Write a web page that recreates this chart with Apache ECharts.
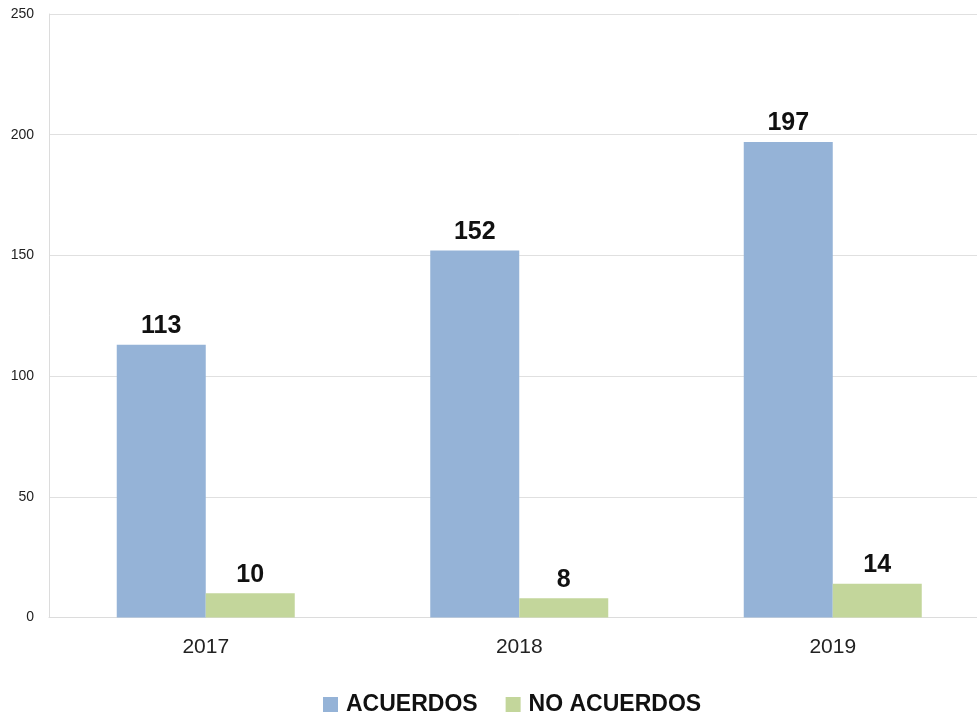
<!DOCTYPE html>
<html><head><meta charset="utf-8">
<script src="https://cdn.jsdelivr.net/npm/echarts@6/dist/echarts.min.js"></script>
<style>html,body{margin:0;padding:0;background:#fff;overflow:hidden}#c{width:992px;height:716px}</style>
</head><body><div id="c"></div>
<script>
const categories = ['2017', '2018', '2019'];
const acuerdos = [113, 152, 197];
const noAcuerdos = [10, 8, 14];
const seriesNames = ['ACUERDOS', 'NO ACUERDOS'];

const FONT = 'Liberation Sans, Arial, sans-serif';
const chart = echarts.init(document.getElementById('c'));
const labelStyle = {show: true, position: 'top', distance: 6, color: '#111', fontSize: 25, fontWeight: 'bold', fontFamily: FONT};
chart.setOption({
  animation: false,
  backgroundColor: '#fff',
  grid: {left: 49, top: 14, width: 940.5, height: 603.5, containLabel: false},
  legend: {
    top: 693, left: 323, padding: 0,
    itemWidth: 15, itemHeight: 15, itemGap: 28,
    icon: 'rect',
    textStyle: {fontSize: 23, fontWeight: 'bold', color: '#111', fontFamily: FONT, padding: [0, 0, 0, 3]},
    data: seriesNames
  },
  xAxis: {
    type: 'category', data: categories,
    axisLine: {lineStyle: {color: '#dcdcdc'}},
    axisTick: {show: false},
    axisLabel: {color: '#222', fontSize: 21, margin: 19, fontFamily: FONT}
  },
  yAxis: {
    type: 'value', min: 0, max: 250, interval: 50,
    axisLine: {show: true, lineStyle: {color: '#dcdcdc'}},
    splitLine: {lineStyle: {color: '#e0e0e0'}},
    axisLabel: {color: '#222', fontSize: 14, margin: 15, fontFamily: FONT}
  },
  series: [
    {name: seriesNames[0], type: 'bar', data: acuerdos, barWidth: 89, barGap: '0%', itemStyle: {color: '#95b3d7'}, label: labelStyle},
    {name: seriesNames[1], type: 'bar', data: noAcuerdos, barWidth: 89, itemStyle: {color: '#c3d69b'}, label: labelStyle}
  ]
});
</script></body></html>
